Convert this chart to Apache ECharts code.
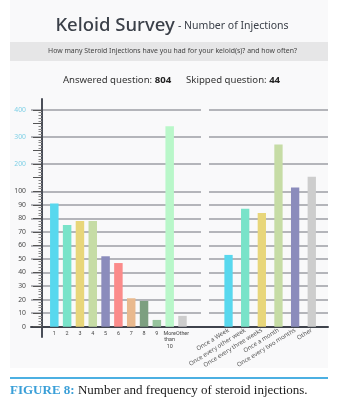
<!DOCTYPE html>
<html><head><meta charset="utf-8">
<script src="https://cdn.jsdelivr.net/npm/echarts@6/dist/echarts.min.js"></script>
<style>html,body{margin:0;padding:0;background:#fff}#c{width:359px;height:419px}</style>
</head><body><div id="c"></div>
<script>
// ---- data ----
const countCategories = ['1','2','3','4','5','6','7','8','9','More than 10','Other'];
const countValues = [91, 75, 78, 78, 52, 47, 21, 19, 5, 340, 8];
const countColors = ['#58d8ee','#79e3c9','#e8d67a','#c6dca5','#8b8cbc','#fb8b8a','#e9b98e','#7d9f80','#97c49d','#b9f7c9','#cdcdcd'];
const frequencyCategories = ['Once a Week','Once every other week','Once every three weeks','Once a month','Once every two months','Other'];
const frequencyValues = [53, 87, 84, 273, 114, 154];
const frequencyColors = ['#58d8ee','#79e3c9','#e8d67a','#c6dca5','#8b8cbc','#cdcdcd'];
const yTickLabels = [0,10,20,30,40,50,60,70,80,90,100,200,300,400];

// broken scale: linear up to 100, compressed 5x above
const BREAK = 100, UPPER_FACTOR = 5;
function toAxis(v){ return v <= BREAK ? v : BREAK + (v - BREAK) / UPPER_FACTOR; }
function fromAxis(t){ return t <= BREAK ? t : BREAK + (t - BREAK) * UPPER_FACTOR; }
const axisMax = toAxis(yTickLabels[yTickLabels.length - 1]);
const labelled = yTickLabels.map(toAxis);
const gridColors = [];
for (let t = 0; t <= axisMax; t += 10) gridColors.push(labelled.indexOf(t) >= 0 ? '#9c9ea4' : 'rgba(0,0,0,0)');

const TOP = 110, H = 216.7;
const chart = echarts.init(document.getElementById('c'));
const hiddenX = (g) => ({gridIndex: g, type: 'value', show: false});
const hiddenY = (g) => ({gridIndex: g, type: 'value', min: 0, max: axisMax, show: false});
const font = 'Noto Sans';

chart.setOption({
  animation: false,
  graphic: [
    {type:'rect', z:-10, shape:{x:10, y:0, width:318, height:368}, style:{fill:'#f9f9fa'}},
    {type:'rect', z:-9, shape:{x:10, y:42, width:318, height:19}, style:{fill:'#e6e6e7'}},
    {type:'text', style:{x:172, y:26, align:'center', verticalAlign:'middle',
      text:'{a|Keloid Survey} {b|- Number of Injections}',
      rich:{a:{fontFamily:font, fontSize:18.5, fill:'#3b4049', fontWeight:500},
            b:{fontFamily:font, fontSize:10.5, fill:'#3b4049'}}}},
    {type:'text', style:{x:172.5, y:51.5, align:'center', verticalAlign:'middle',
      text:'How many Steroid Injections have you had for your keloid(s)? and how often?',
      fontFamily:font, fontSize:6.9, fill:'#444'}},
    {type:'text', style:{x:171.5, y:80, align:'center', verticalAlign:'middle',
      text:'{n|Answered question: }{b|804}{n|      Skipped question: }{b|44}',
      rich:{n:{fontFamily:font, fontSize:9.6, fill:'#333'}, b:{fontFamily:font, fontSize:9.6, fill:'#222', fontWeight:'bold'}}}},
    {type:'rect', shape:{x:10, y:377, width:318, height:2}, style:{fill:'#4cb0e2'}},
    {type:'text', style:{x:10, y:391, align:'left', verticalAlign:'middle',
      text:'{f|FIGURE 8:} {t|Number and frequency of steroid injections.}',
      rich:{f:{fontFamily:'Liberation Serif', fontSize:13, fontWeight:'bold', fill:'#3a9fd8'},
            t:{fontFamily:'Liberation Serif', fontSize:13, fill:'#1a1a1a'}}}}
  ],
  grid: [
    {left:42, top:TOP, width:159, height:H},             // 0 y labels/ticks
    {left:31, top:TOP, width:170, height:H},             // 1 gridlines left
    {left:209, top:TOP, width:119, height:H},            // 2 gridlines right
    {left:47.9, top:TOP, width:141, height:H},           // 3 bars left
    {left:220.2, top:TOP, width:99.9, height:H},         // 4 bars right
    {left:31, top:TOP, width:297, height:H},             // 5 baseline
    {left:42, top:99, width:100, height:238}             // 6 y axis line
  ],
  xAxis: [
    hiddenX(0), hiddenX(1), hiddenX(2),
    {gridIndex:3, type:'category', data:countCategories,
      axisLine:{show:false}, axisTick:{show:false},
      axisLabel:{interval:0, margin:4, fontFamily:'Roboto', fontSize:5.4, color:'#444', lineHeight:6.3,
        formatter:(s)=>s.replace(/ /g,'\n')}},
    {gridIndex:4, type:'category', data:frequencyCategories,
      axisLine:{show:false}, axisTick:{show:false},
      axisLabel:{interval:0, rotate:32, margin:3, fontFamily:font, fontSize:6.1, color:'#555'}},
    {gridIndex:5, type:'value', min:0, max:1, axisLine:{show:true, lineStyle:{color:'#3f434c', width:2}},
      axisTick:{show:false}, axisLabel:{show:false}, splitLine:{show:false}},
    hiddenX(6)
  ],
  yAxis: [
    {gridIndex:0, type:'value', min:0, max:axisMax, interval:10,
      axisLine:{show:false},
      axisTick:{show:true, length:9, lineStyle:{color:'#555', width:1}},
      minorTick:{show:true, splitNumber:5, length:3.5, lineStyle:{color:'#888', width:1}},
      splitLine:{show:false},
      axisLabel:{margin:16, fontFamily:font, fontSize:6.8,
        formatter:(t)=> labelled.indexOf(t) >= 0 ? String(fromAxis(t)) : '',
        color:(t)=> t > BREAK ? '#7fd0e6' : '#4a4a4a'}},
    {gridIndex:1, type:'value', min:0, max:axisMax, interval:10, axisLine:{show:false}, axisTick:{show:false}, axisLabel:{show:false},
      splitLine:{show:true, lineStyle:{color:gridColors, width:1.5}}},
    {gridIndex:2, type:'value', min:0, max:axisMax, interval:10, axisLine:{show:false}, axisTick:{show:false}, axisLabel:{show:false},
      splitLine:{show:true, lineStyle:{color:gridColors, width:1.5}}},
    hiddenY(3), hiddenY(4), hiddenY(5),
    {gridIndex:6, type:'value', min:0, max:1, axisLine:{show:true, lineStyle:{color:'#4a4e58', width:2}},
      axisTick:{show:false}, axisLabel:{show:false}, splitLine:{show:false}}
  ],
  series: [
    {type:'bar', xAxisIndex:3, yAxisIndex:3, barWidth:8.5,
      data: countValues.map((v,i)=>({value:toAxis(v), itemStyle:{color:countColors[i]}}))},
    {type:'bar', xAxisIndex:4, yAxisIndex:4, barWidth:8.3,
      data: frequencyValues.map((v,i)=>({value:toAxis(v), itemStyle:{color:frequencyColors[i]}}))}
  ]
});
</script></body></html>
